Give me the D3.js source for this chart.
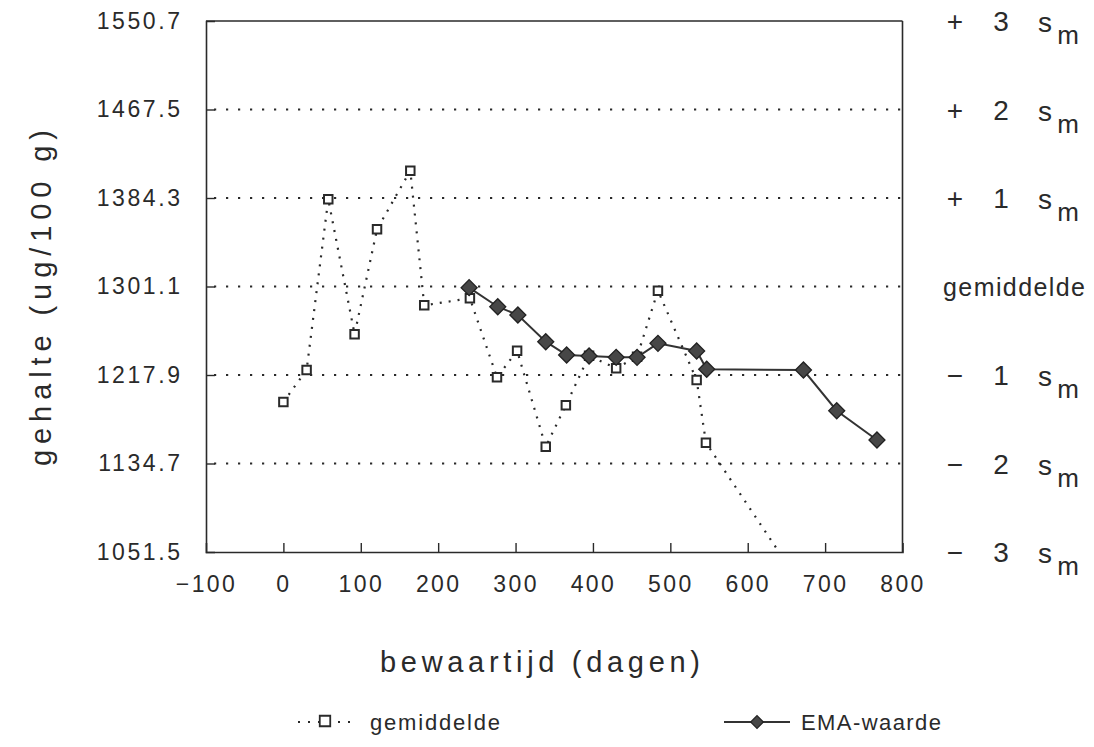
<!DOCTYPE html>
<html>
<head>
<meta charset="utf-8">
<script src="https://cdn.jsdelivr.net/npm/d3@7"></script>
<style>
  html, body { margin: 0; padding: 0; background: #fff; }
  svg { display: block; font-family: "Liberation Sans", Arial, sans-serif; }
</style>
</head>
<body>
<svg id="chart" width="1094" height="747"></svg>
<script>
// ---- data ----
const gemDays   = [0, 30, 58, 92, 121, 164, 182, 241, 276, 302, 339, 365, 395, 430, 457, 484, 534, 546, 672];
const gemValues = [1192.5, 1222.6, 1383.1, 1256.2, 1354.9, 1410.0, 1283.4, 1290.0, 1215.7, 1240.7, 1150.5, 1189.4, 1236.0, 1224.2, 1235.0, 1297.2, 1213.2, 1154.3, 1017.0];
const emaDays   = [240, 277, 303, 339, 366, 395, 430, 457, 484, 534, 547, 672, 715, 767];
const emaValues = [1300.0, 1282.1, 1274.3, 1249.2, 1236.7, 1235.8, 1234.5, 1234.5, 1247.7, 1240.5, 1223.3, 1222.6, 1184.3, 1156.8];
const yTicks    = [1051.5, 1134.7, 1217.9, 1301.1, 1384.3, 1467.5, 1550.7];
const gridTicks = [1134.7, 1217.9, 1301.1, 1384.3, 1467.5];
const xTicks    = [-100, 0, 100, 200, 300, 400, 500, 600, 700, 800];
const rightSigns = ["+", "+", "+", null, "−", "−", "−"];
const rightNums  = ["3", "2", "1", null, "1", "2", "3"];
const rightVals  = [1550.7, 1467.5, 1384.3, 1301.1, 1217.9, 1134.7, 1051.5];
const meanLabel  = "gemiddelde";
const xTitle = "bewaartijd (dagen)";
const yTitle = "gehalte (ug/100 g)";
const legendLabels = ["gemiddelde", "EMA-waarde"];

// ---- layout ----
const svg = d3.select("#chart");
const L = 206, R = 902.5, T = 21, B = 552;
const ink = "#2a2a2a";
const x = d3.scaleLinear().domain([-100, 800]).range([L, R]);
const y = d3.scaleLinear().domain([1051.5, 1550.7]).range([B, T]);

svg.append("defs").append("clipPath").attr("id", "plotclip")
  .append("rect").attr("x", L).attr("y", T).attr("width", R - L).attr("height", B - T);

// grid lines (dotted)
svg.append("g").selectAll("line").data(gridTicks).join("line")
  .attr("x1", L + 8).attr("x2", R)
  .attr("y1", d => y(d)).attr("y2", d => y(d))
  .attr("stroke", ink).attr("stroke-width", 2.2)
  .attr("stroke-dasharray", "2.2,9.8");

// left axis
const yAxis = d3.axisLeft(y).tickValues(yTicks).tickSize(-9).tickPadding(26)
  .tickFormat(d3.format(".1f"));
const gy = svg.append("g").attr("transform", `translate(${L},0)`).call(yAxis);
gy.select(".domain").attr("stroke", ink).attr("stroke-width", 1.6);
gy.selectAll(".tick line").attr("stroke", ink).attr("stroke-width", 1.4)
  .filter(d => d === 1051.5 || d === 1550.7).remove();
gy.selectAll(".tick text").attr("fill", ink).attr("font-size", 23)
  .attr("font-family", "Liberation Sans, Arial, sans-serif")
  .style("letter-spacing", "2.6px").attr("dx", 2.6);

// bottom axis
const xAxis = d3.axisBottom(x).tickValues(xTicks).tickSize(-9).tickPadding(24)
  .tickFormat(d => d < 0 ? "−" + Math.abs(d) : String(d));
const gx = svg.append("g").attr("transform", `translate(0,${B})`).call(xAxis);
gx.select(".domain").attr("stroke", ink).attr("stroke-width", 1.6);
gx.selectAll(".tick line").attr("stroke", ink).attr("stroke-width", 1.4)
  .filter(d => d === -100 || d === 800).remove();
gx.selectAll(".tick text").attr("fill", ink).attr("font-size", 23)
  .attr("font-family", "Liberation Sans, Arial, sans-serif")
  .style("letter-spacing", "2.4px");

// top & right border
svg.append("line").attr("x1", L).attr("x2", R).attr("y1", T).attr("y2", T)
  .attr("stroke", ink).attr("stroke-width", 1.6);
svg.append("line").attr("x1", R).attr("x2", R).attr("y1", T).attr("y2", B)
  .attr("stroke", ink).attr("stroke-width", 1.6);

// right labels
const rg = svg.append("g").attr("fill", ink);
rightVals.forEach((v, i) => {
  const yy = y(v);
  if (rightSigns[i] === null) {
    rg.append("text").attr("x", 943).attr("y", yy + 9).attr("font-size", 25)
      .attr("textLength", 142).attr("lengthAdjust", "spacing").text(meanLabel);
    return;
  }
  rg.append("text").attr("x", 955).attr("y", yy + 10).attr("font-size", 28)
    .attr("text-anchor", "middle").text(rightSigns[i]);
  rg.append("text").attr("x", 1001).attr("y", yy + 10).attr("font-size", 28)
    .attr("text-anchor", "middle").text(rightNums[i]);
  rg.append("text").attr("x", 1045).attr("y", yy + 11).attr("font-size", 28)
    .attr("text-anchor", "middle").text("s");
  rg.append("text").attr("x", 1068).attr("y", yy + 23).attr("font-size", 26)
    .attr("text-anchor", "middle").text("m");
});

// gemiddelde series (dotted line + hollow squares)
const gemData = gemDays.map((d, i) => ({ d, v: gemValues[i] }));
const emaData = emaDays.map((d, i) => ({ d, v: emaValues[i] }));
const line = d3.line().x(p => x(p.d)).y(p => y(p.v));

svg.append("path").datum(gemData).attr("d", line)
  .attr("clip-path", "url(#plotclip)")
  .attr("fill", "none").attr("stroke", ink).attr("stroke-width", 2.2)
  .attr("stroke-dasharray", "2,7");

const sq = d3.symbol(d3.symbolSquare, 72);
svg.append("g").attr("clip-path", "url(#plotclip)")
  .selectAll("path").data(gemData.filter(p => p.v >= 1051.5)).join("path")
  .attr("d", sq).attr("transform", p => `translate(${x(p.d)},${y(p.v)})`)
  .attr("fill", "#fff").attr("stroke", ink).attr("stroke-width", 2);

// EMA series (solid line + filled diamonds)
svg.append("path").datum(emaData).attr("d", line)
  .attr("fill", "none").attr("stroke", "#333").attr("stroke-width", 2);
const dia = d3.symbol(d3.symbolSquare, 128);
svg.append("g").selectAll("path").data(emaData).join("path")
  .attr("d", dia).attr("transform", p => `translate(${x(p.d)},${y(p.v)}) rotate(45)`)
  .attr("fill", "#474747").attr("stroke", "#222").attr("stroke-width", 1.3);

// axis titles
svg.append("text").attr("x", 540).attr("y", 672).attr("text-anchor", "middle")
  .attr("font-size", 29).attr("fill", ink)
  .attr("textLength", 320).attr("lengthAdjust", "spacing").text(xTitle);
svg.append("text").attr("transform", "translate(51,298) rotate(-90)")
  .attr("text-anchor", "middle").attr("font-size", 29).attr("fill", ink)
  .attr("textLength", 336).attr("lengthAdjust", "spacing").text(yTitle);

// legend
const lg = svg.append("g").attr("fill", ink);
lg.append("line").attr("x1", 298).attr("x2", 352).attr("y1", 722).attr("y2", 722)
  .attr("stroke", ink).attr("stroke-width", 2).attr("stroke-dasharray", "2,8");
lg.append("path").attr("d", d3.symbol(d3.symbolSquare, 110))
  .attr("transform", "translate(325,721)")
  .attr("fill", "#fff").attr("stroke", ink).attr("stroke-width", 1.8);
lg.append("text").attr("x", 370).attr("y", 730).attr("font-size", 22)
  .attr("textLength", 130).attr("lengthAdjust", "spacing").text(legendLabels[0]);
lg.append("line").attr("x1", 724).attr("x2", 790).attr("y1", 722).attr("y2", 722)
  .attr("stroke", "#333").attr("stroke-width", 2);
lg.append("path").attr("d", d3.symbol(d3.symbolSquare, 80))
  .attr("transform", "translate(757,722) rotate(45)")
  .attr("fill", "#474747").attr("stroke", "#222").attr("stroke-width", 1.2);
lg.append("text").attr("x", 801).attr("y", 730).attr("font-size", 22)
  .attr("textLength", 140).attr("lengthAdjust", "spacing").text(legendLabels[1]);
</script>
</body>
</html>
